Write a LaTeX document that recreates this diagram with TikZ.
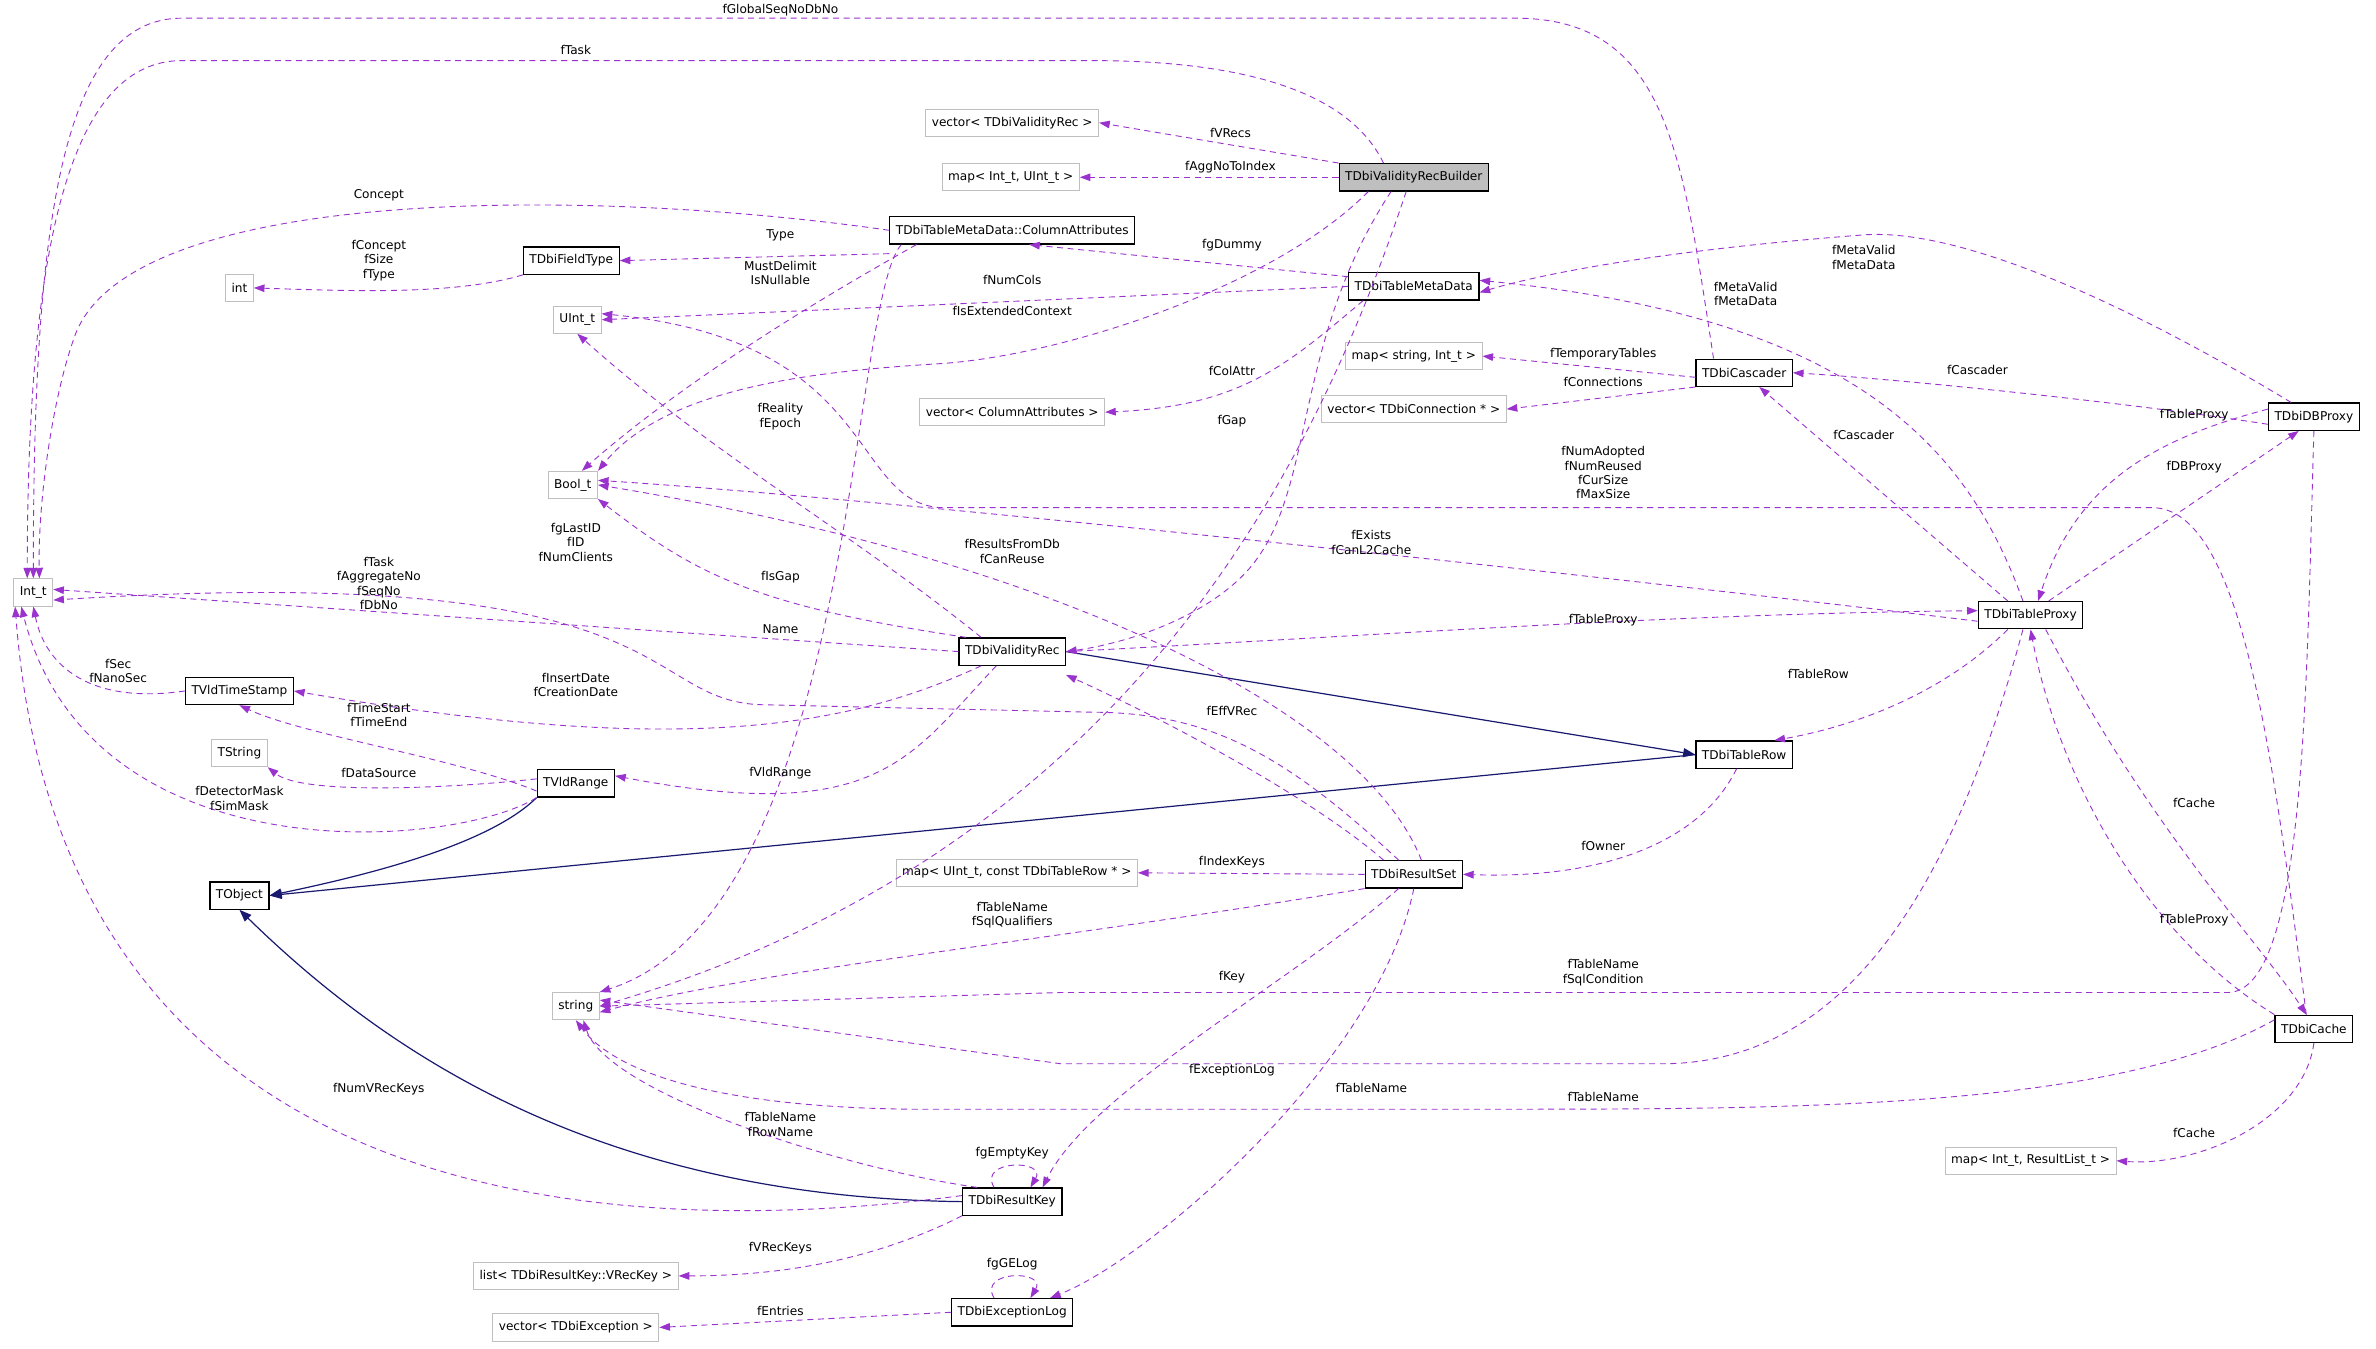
\documentclass[tikz,border=0pt]{standalone}
\usepackage{fontspec}
\setmainfont{DejaVu Sans}
\usetikzlibrary{arrows.meta}
\definecolor{pur}{HTML}{9A32CD}
\definecolor{nav}{HTML}{191970}
\definecolor{gb}{HTML}{BFBFBF}
\begin{document}
\begin{tikzpicture}[x=1pt,y=-1pt,
  box/.style={draw=black,line width=0.8pt,fill=white,font=\fontsize{8}{9}\selectfont,minimum height=18pt,inner xsep=4pt,inner ysep=0pt},
  ext/.style={box,draw=gb,line width=0.6pt},
  use/.style={draw=pur,dashed,dash pattern=on 4pt off 3pt,line width=0.6pt,-{Triangle[length=7pt,width=5pt,fill=pur]}},
  inh/.style={draw=nav,line width=0.8pt,-{Triangle[length=8pt,width=6pt,fill=nav]}},
  lbl/.style={font=\fontsize{8}{9.5}\selectfont,align=center,inner sep=0pt}]
\useasboundingbox (0,0) rectangle (1568,890);
% nodes
\node[ext] (ii) at (22,391) {Int\_t};
\node[box] (tobj) at (158,591) {TObject};
\node[ext] (str) at (380,664) {string};
\node[ext] (bool) at (378,320) {Bool\_t};
\node[ext] (uint) at (381,211) {UInt\_t};
\node[ext] (intn) at (158,190) {int};
\node[ext] (tstr) at (158,497) {TString};
\node[box] (vts) at (158,456) {TVldTimeStamp};
\node[box] (vr) at (380,517) {TVldRange};
\node[box] (ft) at (377,172) {TDbiFieldType};
\node[box] (ca) at (668,152) {TDbiTableMetaData::ColumnAttributes};
\node[ext] (vvr) at (668,81) {vector< TDbiValidityRec >};
\node[ext] (mii) at (667,117) {map< Int\_t, UInt\_t >};
\node[box,fill=gb] (bld) at (933,117) {TDbiValidityRecBuilder};
\node[box] (tmd) at (933,189) {TDbiTableMetaData};
\node[ext] (msi) at (933,235) {map< string, Int\_t >};
\node[ext] (vca) at (668,272) {vector< ColumnAttributes >};
\node[ext] (vcon) at (933,270) {vector< TDbiConnection * >};
\node[box] (cas) at (1151,246) {TDbiCascader};
\node[box] (dbp) at (1527,275) {TDbiDBProxy};
\node[box] (tp) at (1340,406) {TDbiTableProxy};
\node[box] (vrec) at (668,430) {TDbiValidityRec};
\node[box] (trow) at (1151,498) {TDbiTableRow};
\node[ext] (mut) at (671,576) {map< UInt\_t, const TDbiTableRow * >};
\node[box] (rs) at (933,577) {TDbiResultSet};
\node[box] (cache) at (1527,679) {TDbiCache};
\node[ext] (mir) at (1340,766) {map< Int\_t, ResultList\_t >};
\node[box] (rk) at (668,793) {TDbiResultKey};
\node[ext] (lst) at (380,842) {list< TDbiResultKey::VRecKey >};
\node[box] (el) at (668,866) {TDbiExceptionLog};
\node[ext] (vex) at (380,876) {vector< TDbiException >};
% inheritance
\draw[inh] (vrec.east) -- (trow.west);
\draw[inh] (trow.west) -- (tobj.east);
\draw[inh] (vr.south west) .. controls (320,560) and (230,580) .. (tobj.east);
\draw[inh] (rk.west) .. controls (400,790) and (260,700) .. (tobj.south);
% usage edges
\draw[use] ([xshift=12pt]cas.north west) .. controls (1110,100) and (1100,12) .. (1000,12) -- (120,12) .. controls (40,12) and (22,150) .. (ii.north);
\node[lbl] at (515,7) {fGlobalSeqNoDbNo};
\draw[use] ([xshift=-20pt]bld.north) .. controls (890,60) and (820,40) .. (720,40) -- (120,40) .. controls (50,40) and (18,150) .. ([xshift=-4pt]ii.north);
\node[lbl] at (380,33) {fTask};
\draw[use] (bld.north west) -- (vvr.east);
\node[lbl] at (812,88) {fVRecs};
\draw[use] (bld.west) -- (mii.east);
\node[lbl] at (812,110) {fAggNoToIndex};
\draw[use] ([xshift=-30pt]bld.south) .. controls (840,190) and (700,235) .. (620,240) .. controls (540,245) and (440,255) .. (bool.north east);
\node[lbl] at (668,205) {fIsExtendedContext};
\draw[use] ([xshift=-15pt]bld.south) .. controls (850,230) and (870,330) .. (820,380) .. controls (790,410) and (740,425) .. (vrec.east);
\node[lbl] at (813,278) {fGap};
\draw[use] ([xshift=-5pt]bld.south) .. controls (870,300) and (750,560) .. (str.east);
\draw[use] (ca.west) .. controls (400,125) and (90,120) .. (50,220) .. controls (35,260) and (25,330) .. ([xshift=4pt]ii.north);
\node[lbl] at (250,129) {Concept};
\draw[use] ([yshift=-6pt]ca.south west) -- (ft.east);
\node[lbl] at (515,155) {Type};
\draw[use] (ft.south west) .. controls (300,195) and (230,192) .. (intn.east);
\node[lbl] at (250,172) {fConcept\\fSize\\fType};
\draw[use] ([xshift=18pt]ca.south west) .. controls (500,220) and (430,270) .. ([xshift=6pt]bool.north);
\node[lbl] at (515,180) {MustDelimit\\IsNullable};
\draw[use] ([xshift=8pt]ca.south west) .. controls (560,200) and (565,600) .. (str.north east);
\draw[use] ([yshift=-3pt]tmd.north west) -- ([xshift=-70pt]ca.south east);
\node[lbl] at (813,162) {fgDummy};
\draw[use] (tmd.west) -- (uint.east);
\node[lbl] at (668,185) {fNumCols};
\draw[use] ([xshift=10pt]tmd.south west) .. controls (850,240) and (820,268) .. (vca.east);
\node[lbl] at (813,245) {fColAttr};
\draw[use] ([yshift=-3pt]cas.west) -- (msi.east);
\node[lbl] at (1058,234) {fTemporaryTables};
\draw[use] (cas.south west) -- (vcon.east);
\node[lbl] at (1058,252) {fConnections};
\draw[use] ([yshift=-5pt]dbp.west) .. controls (1400,265) and (1250,250) .. (cas.east);
\node[lbl] at (1305,244) {fCascader};
\draw[use] ([xshift=-15pt]dbp.north) .. controls (1420,210) and (1300,150) .. (1230,155) .. controls (1100,165) and (1020,180) .. ([yshift=-4pt]tmd.east);
\node[lbl] at (1230,170) {fMetaValid\\fMetaData};
\draw[use] ([xshift=-5pt]tp.north) .. controls (1300,300) and (1230,210) .. ([yshift=4pt]tmd.east);
\node[lbl] at (1152,194) {fMetaValid\\fMetaData};
\draw[use] ([xshift=-15pt]tp.north) -- ([xshift=10pt]cas.south);
\node[lbl] at (1230,287) {fCascader};
\draw[use] ([yshift=5pt]dbp.west) .. controls (1420,290) and (1370,320) .. ([xshift=5pt]tp.north);
\node[lbl] at (1448,274) {fTableProxy};
\draw[use] ([xshift=12pt]tp.north) -- ([xshift=-10pt]dbp.south);
\node[lbl] at (1448,308) {fDBProxy};
\draw[use] ([xshift=-5pt]cache.north) .. controls (1500,500) and (1480,335) .. (1420,335) -- (620,335) .. controls (560,330) and (580,225) .. ([yshift=4pt]uint.east);
\node[lbl] at (1058,312) {fNumAdopted\\fNumReused\\fCurSize\\fMaxSize};
\draw[use] ([yshift=-4pt]tp.west) .. controls (1100,385) and (600,330) .. ([yshift=3pt]bool.east);
\node[lbl] at (905,358) {fExists\\fCanL2Cache};
\draw[use] (vrec.east) .. controls (900,420) and (1100,405) .. ([yshift=3pt]tp.west);
\node[lbl] at (1058,409) {fTableProxy};
\draw[use] ([xshift=-15pt]tp.south) .. controls (1280,460) and (1220,480) .. ([xshift=20pt]trow.north);
\node[lbl] at (1200,445) {fTableRow};
\draw[use] ([xshift=10pt]tp.south) .. controls (1420,550) and (1490,620) .. ([xshift=-5pt]cache.north);
\node[lbl] at (1448,530) {fCache};
\draw[use] (cache.north west) .. controls (1420,620) and (1360,520) .. (tp.south);
\node[lbl] at (1448,607) {fTableProxy};
\draw[use] (cache.south) .. controls (1520,740) and (1450,770) .. (mir.east);
\node[lbl] at (1448,748) {fCache};
\draw[use] (dbp.south) .. controls (1522,450) and (1522,655) .. (1470,655) -- (700,655) -- (str.east);
\node[lbl] at (1058,642) {fTableName\\fSqlCondition};
\draw[use] ([xshift=-5pt]tp.south) .. controls (1280,620) and (1200,700) .. (1100,702) -- (700,702) -- ([yshift=4pt]str.east);
\node[lbl] at (905,718) {fTableName};
\draw[use] ([yshift=6pt]cache.west) .. controls (1400,730) and (1200,732) .. (1000,732) -- (600,732) .. controls (450,730) and (400,700) .. (str.south);
\node[lbl] at (1058,724) {fTableName};
\draw[use] (vrec.west) -- ([yshift=2pt]ii.east);
\node[lbl] at (515,415) {Name};
\draw[use] ([xshift=-10pt]rs.north) .. controls (850,500) and (800,470) .. (720,470) -- (500,465) .. controls (420,460) and (450,370) .. ([yshift=-5pt]ii.east);
\node[lbl] at (380,358) {fgLastID\\fID\\fNumClients};
\node[lbl] at (250,385) {fTask\\fAggregateNo\\fSeqNo\\fDbNo};
\draw[use] ([xshift=5pt]vrec.north west) .. controls (500,400) and (460,380) .. (bool.south east);
\node[lbl] at (515,381) {fIsGap};
\draw[use] ([xshift=15pt]vrec.north west) .. controls (560,350) and (470,300) .. (uint.south);
\node[lbl] at (515,275) {fReality\\fEpoch};
\draw[use] ([xshift=25pt]vrec.south west) .. controls (600,500) and (580,545) .. ([yshift=5pt]vr.east);
\node[lbl] at (515,510) {fVldRange};
\draw[use] ([xshift=15pt]vrec.south west) .. controls (560,480) and (450,500) .. (vts.east);
\node[lbl] at (380,452) {fInsertDate\\fCreationDate};
\draw[use] ([xshift=5pt]rs.north) .. controls (900,470) and (700,370) .. (bool.east);
\node[lbl] at (668,364) {fResultsFromDb\\fCanReuse};
\draw[use] ([xshift=-20pt]rs.north) .. controls (870,530) and (780,480) .. ([yshift=-6pt]vrec.south east);
\node[lbl] at (813,469) {fEffVRec};
\draw[use] (rs.west) -- (mut.east);
\node[lbl] at (813,569) {fIndexKeys};
\draw[use] (rs.south west) .. controls (700,620) and (500,640) .. ([yshift=-4pt]str.east);
\node[lbl] at (668,604) {fTableName\\fSqlQualifiers};
\draw[use] ([xshift=-10pt]rs.south) .. controls (850,650) and (720,720) .. ([xshift=20pt]rk.north);
\node[lbl] at (813,645) {fKey};
\draw[use] (rs.south) .. controls (910,700) and (760,830) .. ([xshift=25pt]el.north);
\node[lbl] at (813,706) {fExceptionLog};
\draw[use] ([xshift=-5pt]trow.south) .. controls (1120,560) and (1050,580) .. (rs.east);
\node[lbl] at (1058,558) {fOwner};
\draw[use] (vts.west) .. controls (60,465) and (30,440) .. (ii.south);
\node[lbl] at (78,443) {fSec\\fNanoSec};
\draw[use] ([yshift=-5pt]vr.west) .. controls (300,500) and (200,485) .. (vts.south);
\node[lbl] at (250,472) {fTimeStart\\fTimeEnd};
\draw[use] ([yshift=3pt]vr.west) .. controls (300,520) and (200,525) .. (tstr.south east);
\node[lbl] at (250,510) {fDataSource};
\draw[use] (vr.south west) .. controls (300,560) and (60,580) .. ([xshift=-8pt]ii.south);
\node[lbl] at (158,527) {fDetectorMask\\fSimMask};
\draw[use] ([xshift=10pt]rk.north west) .. controls (550,770) and (400,720) .. ([xshift=5pt]str.south);
\node[lbl] at (515,742) {fTableName\\fRowName};
\draw[use] ([xshift=-12pt]rk.north) .. controls (645,765) and (691,765) .. ([xshift=12pt]rk.north);
\node[lbl] at (668,761) {fgEmptyKey};
\draw[use] ([yshift=4pt]rk.west) .. controls (400,820) and (40,800) .. ([xshift=-12pt]ii.south);
\node[lbl] at (250,719) {fNumVRecKeys};
\draw[use] (rk.south west) .. controls (580,830) and (520,842) .. (lst.east);
\node[lbl] at (515,824) {fVRecKeys};
\draw[use] ([xshift=-12pt]el.north) .. controls (645,838) and (691,838) .. ([xshift=12pt]el.north);
\node[lbl] at (668,834) {fgGELog};
\draw[use] (el.west) -- (vex.east);
\node[lbl] at (515,865) {fEntries};
\end{tikzpicture}
\end{document}
